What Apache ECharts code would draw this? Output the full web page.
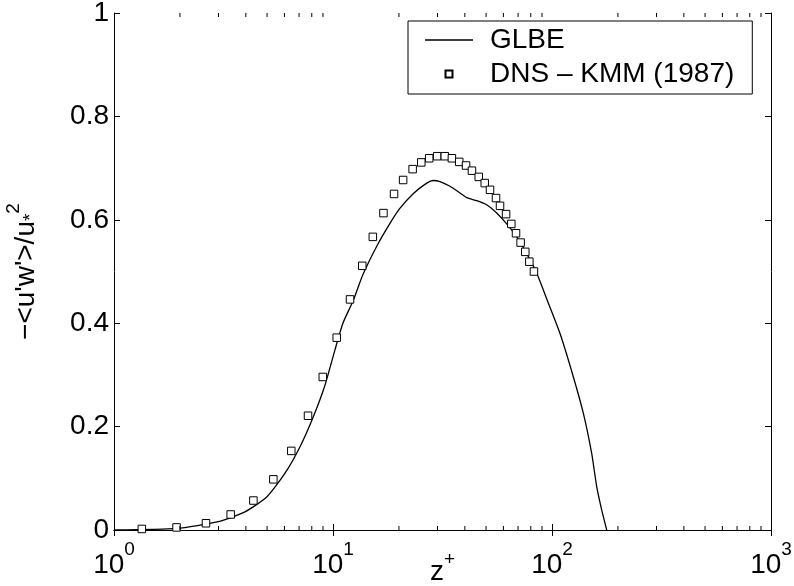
<!DOCTYPE html>
<html>
<head>
<meta charset="utf-8">
<script src="https://cdn.jsdelivr.net/npm/echarts@6/dist/echarts.min.js"></script>
<style>
  html, body { margin: 0; padding: 0; background: #fff; }
  #chart { width: 794px; height: 586px; }
</style>
</head>
<body>
<div id="chart"></div>
<script>
// GLBE curve, [z+, -<u'w'>/u*^2]
const glbeData = [
  [1, 0], [1.93, 0.003], [2.99, 0.016], [3.96, 0.035], [4.98, 0.064],
  [6.04, 0.110], [7.07, 0.161], [8.13, 0.219], [9.19, 0.280], [10.2, 0.348],
  [11.1, 0.400], [12.4, 0.445], [13.7, 0.494], [15.8, 0.548], [18.2, 0.593],
  [20.2, 0.622], [23.3, 0.651], [26.8, 0.671], [28.7, 0.676], [30.8, 0.674],
  [34.2, 0.665], [38.0, 0.652], [40.8, 0.643], [45.3, 0.637], [50.3, 0.629],
  [55.9, 0.613], [62.1, 0.592], [69.0, 0.567], [76.6, 0.535], [85.1, 0.497],
  [94.6, 0.447], [108.8, 0.380], [125, 0.297], [139, 0.226], [151.8, 0.148],
  [160, 0.084], [168.6, 0.039], [177.8, 0]
];

// DNS - KMM (1987) points
const dnsData = [
  [1.34, 0.002], [1.93, 0.005], [2.63, 0.013], [3.41, 0.030], [4.33, 0.057],
  [5.34, 0.098], [6.45, 0.153], [7.69, 0.221], [8.98, 0.296], [10.4, 0.372],
  [11.96, 0.446], [13.6, 0.511], [15.2, 0.567], [17.0, 0.613], [19.0, 0.650],
  [20.9, 0.677], [23.1, 0.698], [25.3, 0.711], [27.5, 0.719], [29.9, 0.723],
  [32.4, 0.723], [34.9, 0.719], [37.7, 0.712], [40.5, 0.705], [43.1, 0.695],
  [46.3, 0.683], [49.3, 0.671], [52.1, 0.658], [55.5, 0.642], [57.9, 0.627],
  [61.7, 0.611], [65.2, 0.592], [68.5, 0.574], [71.9, 0.556], [75.5, 0.538],
  [78.8, 0.519], [82.7, 0.500]
];

// minor tick positions on the log axis
const minorTicks = [];
[1, 10, 100].forEach(d => {
  for (let k = 2; k <= 9; k++) minorTicks.push([k * d, 0]);
});

const FONT = 'Liberation Sans';
const chart = echarts.init(document.getElementById('chart'));

function renderMinor(params, api) {
  const x = api.value(0);
  const b = api.coord([x, 0]);
  const t = api.coord([x, 1]);
  const st = { stroke: '#000', lineWidth: 1 };
  return {
    type: 'group',
    children: [
      { type: 'line', shape: { x1: b[0], y1: b[1], x2: b[0], y2: b[1] - 4 }, style: st },
      { type: 'line', shape: { x1: t[0], y1: t[1], x2: t[0], y2: t[1] + 4 }, style: st }
    ]
  };
}

const logLabel = {
  formatter: v => '{b|10}{e|' + Math.round(Math.log10(v)) + '}',
  margin: 10,
  rich: {
    b: { fontFamily: FONT, fontSize: 28, color: '#000', verticalAlign: 'bottom', lineHeight: 39 },
    e: { fontFamily: FONT, fontSize: 19, color: '#000', verticalAlign: 'top', lineHeight: 19 }
  }
};

chart.setOption({
  animation: false,
  backgroundColor: '#fff',
  grid: { left: 114, right: 23, top: 13, bottom: 56, outerBoundsMode: 'none', containLabel: false },
  legend: {
    left: 408, top: 21,
    orient: 'vertical',
    itemWidth: 48, itemHeight: 7, itemGap: 6,
    padding: [5, 18, 6, 17],
    borderColor: '#000', borderWidth: 1, borderRadius: 0,
    backgroundColor: '#fff',
    textStyle: { fontFamily: FONT, fontSize: 28, color: '#000', padding: [0, 0, 0, 12] },
    data: [
      { name: 'GLBE', icon: 'path://M0,0H48V1.3H0Z' },
      { name: 'DNS – KMM (1987)', icon: 'path://M0,0H10V10H0Z' }
    ]
  },
  xAxis: [
    {
      type: 'log', logBase: 10, min: 1, max: 1000,
      name: '{z|z}{p|+}',
      nameLocation: 'middle', nameGap: 20, nameMoveOverlap: false,
      nameTextStyle: {
        rich: {
          z: { fontFamily: FONT, fontSize: 28, color: '#000', verticalAlign: 'bottom', lineHeight: 36 },
          p: { fontFamily: FONT, fontSize: 19, color: '#000', verticalAlign: 'top', lineHeight: 24 }
        }
      },
      axisLine: { lineStyle: { color: '#000', width: 1 } },
      axisTick: { inside: true, length: 6, lineStyle: { color: '#000' } },
      axisLabel: logLabel,
      splitLine: { show: false }
    },
    {
      type: 'log', logBase: 10, min: 1, max: 1000, position: 'top',
      axisLine: { lineStyle: { color: '#000', width: 1 } },
      axisTick: { inside: true, length: 6, lineStyle: { color: '#000' } },
      axisLabel: { show: false },
      splitLine: { show: false }
    }
  ],
  yAxis: [
    {
      type: 'value', min: 0, max: 1, interval: 0.2,
      name: '{t|−<u\'w\'>/u}{s|*}{p|2}',
      nameLocation: 'middle', nameGap: 74, nameRotate: 90, nameMoveOverlap: false,
      nameTextStyle: {
        rich: {
          t: { fontFamily: FONT, fontSize: 28, color: '#000', verticalAlign: 'bottom', lineHeight: 36 },
          s: { fontFamily: FONT, fontSize: 19, color: '#000', verticalAlign: 'bottom', lineHeight: 32 },
          p: { fontFamily: FONT, fontSize: 19, color: '#000', verticalAlign: 'top' }
        }
      },
      axisLine: { lineStyle: { color: '#000', width: 1 } },
      axisTick: { inside: true, length: 6, lineStyle: { color: '#000' } },
      axisLabel: {
        fontFamily: FONT, fontSize: 28, color: '#000', margin: 5,
        formatter: v => (v === 0 || v === 1) ? String(v) : v.toFixed(1)
      },
      splitLine: { show: false }
    },
    {
      type: 'value', min: 0, max: 1, interval: 0.2, position: 'right',
      axisLine: { show: true, lineStyle: { color: '#000', width: 1 } },
      axisTick: { show: true, inside: true, length: 6, lineStyle: { color: '#000' } },
      axisLabel: { show: false },
      splitLine: { show: false }
    }
  ],
  series: [
    {
      name: 'GLBE',
      type: 'line',
      data: glbeData,
      smooth: 0.2,
      showSymbol: false,
      symbol: 'none',
      lineStyle: { color: '#000', width: 1.3 },
      itemStyle: { color: '#000' },
      z: 3
    },
    {
      name: 'DNS – KMM (1987)',
      type: 'scatter',
      data: dnsData,
      symbol: 'rect',
      symbolSize: 7.5,
      itemStyle: { color: '#fff', borderColor: '#000', borderWidth: 1, opacity: 1 },
      z: 4
    },
    {
      type: 'custom',
      data: minorTicks,
      renderItem: renderMinor,
      silent: true,
      clip: false,
      z: 5
    }
  ]
});
</script>
</body>
</html>
